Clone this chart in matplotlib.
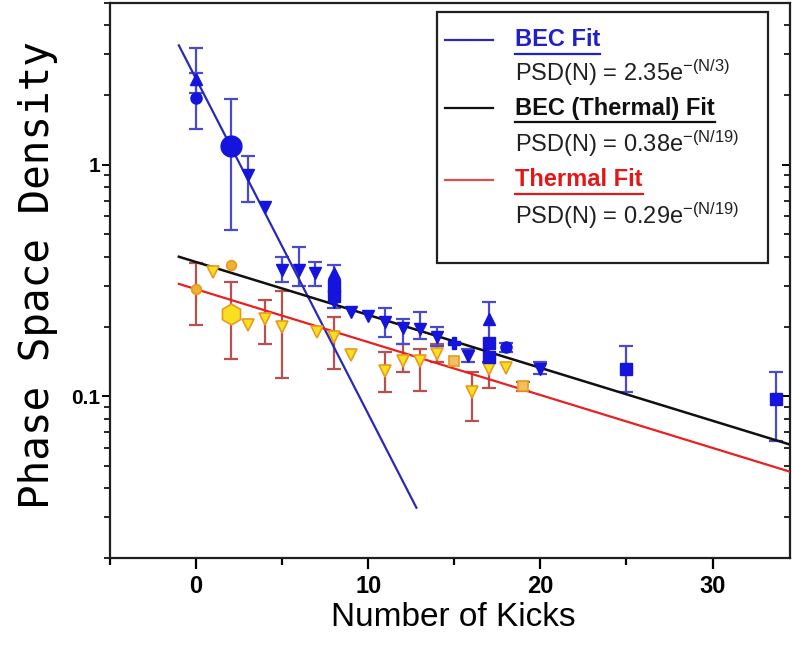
import numpy as np
import matplotlib.pyplot as plt
from matplotlib.lines import Line2D
from matplotlib.patches import Rectangle
from matplotlib.ticker import LogLocator, NullFormatter, FixedLocator

plt.rcParams["font.family"] = ["Liberation Sans", "DejaVu Sans"]
plt.rcParams["mathtext.default"] = "regular"

# BEC data (blue), grouped by marker shape
bec_down_n = [3, 4, 5, 6, 6.9, 8, 9, 10, 11, 12, 13, 14, 15.8, 20]
bec_down_v = [0.90, 0.66, 0.35, 0.35, 0.34, 0.255, 0.232, 0.222, 0.21, 0.197, 0.195, 0.18, 0.149, 0.131]
bec_up_n = [0, 8, 17]
bec_up_v = [2.35, 0.34, 0.215]
bec_circ_n = [0, 18]
bec_circ_v = [1.94, 0.163]
bec_big_n = [2]
bec_big_v = [1.21]
bec_sq_n = [8, 8, 17, 17, 25, 33.7]
bec_sq_v = [0.30, 0.27, 0.17, 0.148, 0.131, 0.097]
bec_star_n = [15]
bec_star_v = [0.17]

# BEC error bars (low, high)
bec_err_n = [0, 0, 2, 3, 5, 6, 6.9, 8, 11, 12, 13, 14, 15.8, 17, 18, 20, 25, 33.7]
bec_err_lo = [1.43, 2.05, 0.525, 0.69, 0.31, 0.30, 0.30, 0.24, 0.18, 0.168, 0.176, 0.165, 0.14, 0.14, 0.155, 0.125, 0.104, 0.064]
bec_err_hi = [2.5, 3.2, 1.92, 1.09, 0.40, 0.44, 0.38, 0.37, 0.24, 0.215, 0.232, 0.20, 0.16, 0.256, 0.17, 0.14, 0.164, 0.127]

# Thermal data (yellow / orange)
th_down_n = [1, 3, 4, 5, 7, 8, 9, 11, 12, 13, 14, 16, 17, 18]
th_down_v = [0.345, 0.204, 0.215, 0.20, 0.19, 0.18, 0.15, 0.128, 0.142, 0.142, 0.152, 0.104, 0.131, 0.133]
th_circ_n = [0, 2]
th_circ_v = [0.29, 0.37]
th_hex_n = [2]
th_hex_v = [0.226]
th_sq_n = [15, 19]
th_sq_v = [0.142, 0.111]

th_err_n = [0, 2, 4, 5, 8, 11, 12, 13, 14, 16, 17, 19]
th_err_lo = [0.204, 0.145, 0.168, 0.12, 0.131, 0.104, 0.127, 0.105, 0.14, 0.078, 0.109, 0.105]
th_err_hi = [0.378, 0.31, 0.26, 0.284, 0.219, 0.155, 0.168, 0.16, 0.168, 0.127, 0.14, 0.115]

# fit parameters from the legend
bec_amp, bec_tau = 2.35, 3.0
becth_amp, becth_tau = 0.38, 19.0
th_amp, th_tau = 0.29, 19.0

BLUE = "#1414dc"
BLUE_ERR = "#4a4ad0"
YEL = "#f8e020"
ORANGE = "#e89a20"
RED_ERR = "#b85050"

fig = plt.figure(figsize=(7.92, 6.45), dpi=100)
ax = fig.add_axes([110 / 792, 1 - 558 / 645, 680 / 792, 555 / 645])

ax.set_yscale("log")
ax.set_xlim(-5, 34.5)
ax.set_ylim(0.02, 5)

# fit lines
n1 = np.linspace(-1, 12.8, 100)
ax.plot(n1, bec_amp * np.exp(-n1 / bec_tau), color="#2a2ab4", lw=1.6, zorder=4)
n2 = np.linspace(-1, 34.5, 100)
ax.plot(n2, becth_amp * np.exp(-n2 / becth_tau), color="#101010", lw=1.8, zorder=4)
ax.plot(n2, th_amp * np.exp(-n2 / th_tau), color="#e82020", lw=1.6, zorder=4)


def bars(n, lo, hi, color):
    lo = np.array(lo)
    hi = np.array(hi)
    ax.errorbar(n, lo, yerr=[np.zeros_like(lo), hi - lo], fmt="none",
                ecolor=color, elinewidth=1.6, capsize=5, capthick=1.6, zorder=3)


bars(th_err_n, th_err_lo, th_err_hi, RED_ERR)
bars(bec_err_n, bec_err_lo, bec_err_hi, BLUE_ERR)

# thermal markers
ax.plot(th_down_n, th_down_v, ls="none", marker="v", ms=9, mfc=YEL, mec=ORANGE, mew=1.2, zorder=5)
ax.plot(th_circ_n, th_circ_v, ls="none", marker="o", ms=7, mfc="#f0b030", mec=ORANGE, mew=1.2, zorder=5)
ax.plot(th_hex_n, th_hex_v, ls="none", marker="h", ms=15, mfc=YEL, mec=ORANGE, mew=1.2, zorder=5)
ax.plot(th_sq_n, th_sq_v, ls="none", marker="s", ms=7, mfc="#f0c060", mec=ORANGE, mew=1.2, zorder=5)

# BEC markers
ax.plot(bec_down_n, bec_down_v, ls="none", marker="v", ms=9, color=BLUE, zorder=6)
ax.plot(bec_up_n, bec_up_v, ls="none", marker="^", ms=9, color=BLUE, zorder=6)
ax.plot(bec_circ_n, bec_circ_v, ls="none", marker="o", ms=8, color=BLUE, zorder=6)
ax.plot(bec_big_n, bec_big_v, ls="none", marker="o", ms=15, color=BLUE, zorder=6)
ax.plot(bec_sq_n, bec_sq_v, ls="none", marker="s", ms=8, color=BLUE, zorder=6)
ax.plot(bec_star_n, bec_star_v, ls="none", marker="P", ms=9, color=BLUE, zorder=6)

# axes styling
for s in ax.spines.values():
    s.set_linewidth(1.6)
    s.set_color("#202020")

ax.xaxis.set_major_locator(FixedLocator([0, 10, 20, 30]))
ax.xaxis.set_minor_locator(FixedLocator([-5, 5, 15, 25]))
ax.yaxis.set_minor_locator(LogLocator(base=10, subs=np.arange(2, 10)))
ax.yaxis.set_minor_formatter(NullFormatter())
ax.set_yticks([0.1, 1])
ax.set_yticklabels(["0.1", "1"])

ax.tick_params(axis="x", which="major", direction="out", length=8, width=1.6, pad=4,
               labelsize=17, top=False)
ax.tick_params(axis="x", which="minor", direction="out", length=5, width=1.6, top=False)
ax.tick_params(axis="y", which="major", direction="out", length=6, width=1.4, pad=1,
               labelsize=15, right=True)
ax.tick_params(axis="y", which="minor", direction="out", length=4, width=1.2, right=True)
for lab in ax.get_xticklabels() + ax.get_yticklabels():
    lab.set_fontweight("bold")

# right-side ticks point inward
for t in ax.yaxis.get_major_ticks() + ax.yaxis.get_minor_ticks():
    t.tick2line.set_marker(0)

ax.set_xlabel("Number of Kicks", fontsize=24)
ax.xaxis.set_label_coords(0.505, -0.08)
ax.set_ylabel("Phase Space Density", fontsize=29.5, family=["DejaVu Sans Mono"])
ax.yaxis.set_label_coords(-0.076, 0.51)


# legend drawn by hand
def ax_xy(px, py):
    return (px - 110) / 680, (558 - py) / 555


x0, y0 = ax_xy(437, 263)
x1, y1 = ax_xy(768, 12)
ax.add_patch(Rectangle((x0, y0), x1 - x0, y1 - y0, transform=ax.transAxes,
                       facecolor="white", edgecolor="#202020", lw=1.6, zorder=10))

entries = [
    ("BEC Fit", "#2a2ab4", "#2020c8", 40, r"PSD(N) = 2.35e$^{-(N/3)}$", 73),
    ("BEC (Thermal) Fit", "#101010", "#101010", 108, r"PSD(N) = 0.38e$^{-(N/19)}$", 144),
    ("Thermal Fit", "#d85050", "#e01818", 180, r"PSD(N) = 0.29e$^{-(N/19)}$", 216),
]
fig.canvas.draw()
renderer = fig.canvas.get_renderer()
for title, lcol, tcol, ty, formula, fy in entries:
    lx0, ly = ax_xy(445, ty)
    lx1, _ = ax_xy(493, ty)
    ax.add_line(Line2D([lx0, lx1], [ly, ly], transform=ax.transAxes, color=lcol, lw=1.6, zorder=11))
    tx, _ = ax_xy(515, ty)
    t = ax.text(tx, ly, title, transform=ax.transAxes, fontsize=17, fontweight="bold",
                color=tcol, va="center", ha="left", zorder=11)
    bb = t.get_window_extent(renderer).transformed(ax.transAxes.inverted())
    uy = bb.y0 - 0.004
    ax.add_line(Line2D([bb.x0, bb.x1], [uy, uy], transform=ax.transAxes, color=tcol, lw=1.6, zorder=11))
    _, fyy = ax_xy(515, fy)
    ax.text(tx, fyy, formula, transform=ax.transAxes, fontsize=17, color="#202020",
            va="center", ha="left", zorder=11)

fig.savefig("out.png", dpi=100)
